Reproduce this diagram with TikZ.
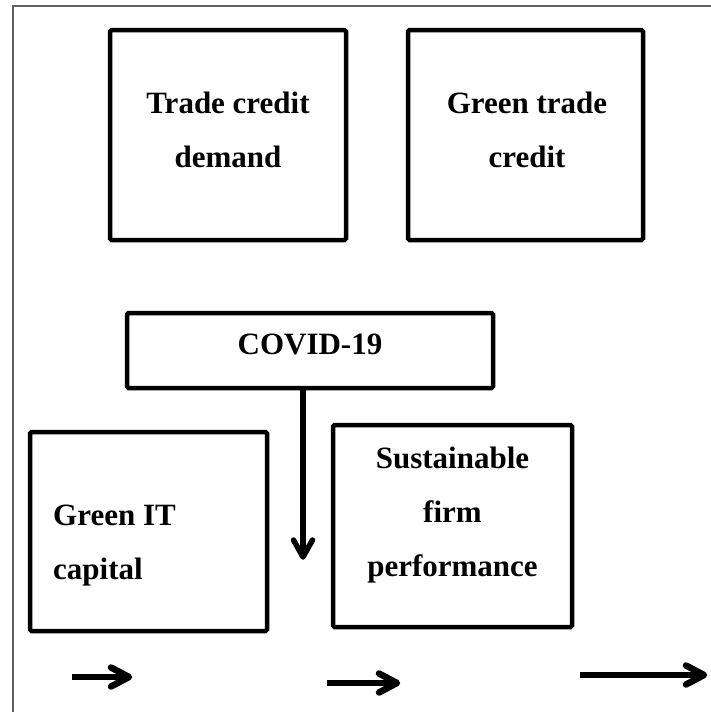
\documentclass[tikz,border=0pt]{standalone}
\usepackage{fontspec}
\setmainfont{Liberation Serif}
\usepackage{tikz}
\usetikzlibrary{calc}
\definecolor{FrameGray}{RGB}{96, 96, 96}

\tikzset{
  varbox/.style={draw=black,line width=4.5pt,rounded corners=1.5pt,fill=white},
  vartext/.style={inner sep=0pt,font=\fontsize{31}{54}\selectfont\bfseries},
  flow/.style={line width=6.5pt,line cap=round,line join=round}
}

\begin{document}
\begin{tikzpicture}[x=1pt,y=-1pt]
    \useasboundingbox (0,0) rectangle (711,712);
    % outer frame, top and left edges only
    \draw[FrameGray,line width=1.5pt] (711,6) -- (13,6) -- (13,712);

    % upper row
    \node[varbox,minimum width=236pt,minimum height=210pt] (tcd) at (228,135) {};
    \node[vartext,align=center] (tcd-txt) at (228,129.5) {Trade credit\\demand};
    \node[varbox,minimum width=235pt,minimum height=210pt] (gtc) at (525.5,135) {};
    \node[vartext,align=center] (gtc-txt) at (527,129.5) {Green trade\\credit};

    % moderator
    \node[varbox,minimum width=366pt,minimum height=75pt] (covid) at (310,350.5) {};
    \node[vartext] (covid-txt) at (310,344.5) {COVID-19};

    % lower row
    \node[varbox,minimum width=237pt,minimum height=199pt] (git) at (148.5,531.5) {};
    \node[vartext,align=left,anchor=west] (git-txt) at (53,546) {Green IT\\capital};
    \node[varbox,minimum width=239pt,minimum height=202pt] (sfp) at (452.5,526) {};
    \node[vartext,align=center] (sfp-txt) at (452.5,514.75) {Sustainable\\firm\\performance};

    % moderating arrow, open chevron head
    \coordinate (hit) at (303,557);
    \draw[flow,line width=5.5pt,line cap=butt] (covid.south -| hit) -- (hit);
    \draw[flow,line width=5.5pt] ($(hit)+(-9.5,-17)$) -- (hit) -- ($(hit)+(9.5,-17)$);

    % loose arrows along the bottom
    \coordinate (t1) at (129,677);
    \coordinate (t2) at (397,683);
    \coordinate (t3) at (704,675);
    \draw[flow,line cap=butt] (72,677) -- (t1);
    \draw[flow] ($(t1)+(-18,-9.5)$) -- (t1) -- ($(t1)+(-18,9.5)$);
    \draw[flow,line cap=butt] (327,683) -- (t2);
    \draw[flow] ($(t2)+(-18,-9.5)$) -- (t2) -- ($(t2)+(-18,9.5)$);
    \draw[flow,line cap=butt] (580,675) -- (t3);
    \draw[flow] ($(t3)+(-18,-9.5)$) -- (t3) -- ($(t3)+(-18,9.5)$);
\end{tikzpicture}
\end{document}
